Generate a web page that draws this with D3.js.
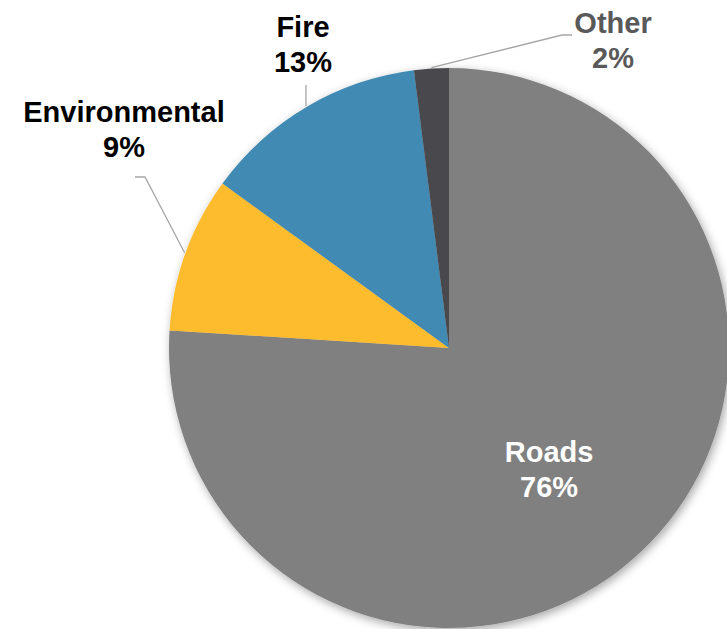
<!DOCTYPE html>
<html lang="en">
  <head>
    <meta charset="utf-8">
    <title>Spending by category</title>
    <script src="https://d3js.org/d3.v7.min.js"></script>
    <style>
      body { margin: 0; background: #fff; }
      text { font-family: "Liberation Sans", Arial, sans-serif; font-weight: bold; font-size: 29px; }
    </style>
  </head>
  <body>
    <script type="text/javascript">

      var w = 727;
      var h = 629;
      var cx = 449, cy = 348, radius = 280;

      var categories = ["Roads", "Environmental", "Fire", "Other"];
      var values = [76, 9, 13, 2];

      var color = d3.scaleOrdinal()
                    .domain(categories)
                    .range(["#808080", "#fdbb2f", "#418ab3", "#4a4a4d"]);

      // label placement relative to the pie centre, plus elbow points for the leader lines
      var labelPos = {
        "Environmental": {x: -325, y: -223, elbow: [[-304, -171], [-314, -171]]},
        "Fire": {x: -146, y: -308, elbow: [[null, -263]]},
        "Other": {x: 164, y: -312, elbow: [[113, -313], [123, -313]]}
      };

      var dataset = categories.map((c, i) => ({name: c, value: values[i]}));

      var svg = d3.select("body")
                  .append("svg")
                  .attr("width", w)
                  .attr("height", h);

      var defs = svg.append("defs");
      var shadow = defs.append("filter")
                       .attr("id", "shadow")
                       .attr("x", "-20%").attr("y", "-20%")
                       .attr("width", "140%").attr("height", "140%");
      shadow.append("feDropShadow")
            .attr("dx", 2).attr("dy", 3)
            .attr("stdDeviation", 5)
            .attr("flood-color", "#000")
            .attr("flood-opacity", 0.35);

      var pie = d3.pie()
                  .sort(null)
                  .value(d => d.value);

      var arc = d3.arc()
                  .innerRadius(0)
                  .outerRadius(radius);

      var g = svg.append("g")
                 .attr("transform", "translate(" + cx + "," + cy + ")");

      var arcs = pie(dataset);

      g.append("g")
       .attr("filter", "url(#shadow)")
       .selectAll("path")
       .data(arcs)
       .enter()
       .append("path")
       .attr("d", arc)
       .attr("fill", d => color(d.data.name));

      // leader lines for the outside labels
      var edge = d => {
        var a = (d.startAngle + d.endAngle) / 2;
        return [Math.sin(a) * (radius + 1), -Math.cos(a) * (radius + 1)];
      };

      g.selectAll("polyline")
       .data(arcs.filter(d => labelPos[d.data.name]))
       .enter()
       .append("polyline")
       .attr("fill", "none")
       .attr("stroke", "#a6a6a6")
       .attr("stroke-width", 1.3)
       .attr("points", d => {
         var p0 = edge(d);
         var pts = [p0].concat(labelPos[d.data.name].elbow.map(e => [e[0] == null ? p0[0] : e[0], e[1]]));
         return pts.map(p => p.join(",")).join(" ");
       });

      // inside label for the big slice
      var inner = d3.arc().innerRadius(155).outerRadius(155);

      var labels = g.selectAll("text.lbl")
                    .data(arcs)
                    .enter()
                    .append("text")
                    .attr("class", "lbl")
                    .attr("text-anchor", "middle")
                    .attr("fill", d => d.data.name == "Roads" ? "#fff" : (d.data.name == "Other" ? "#595959" : "#000"))
                    .attr("transform", d => {
                      var p = labelPos[d.data.name];
                      if (p) return "translate(" + p.x + "," + p.y + ")";
                      var c = inner.centroid(d);
                      return "translate(" + (c[0] - 6) + "," + (c[1] + 4) + ")";
                    });

      labels.append("tspan")
            .attr("x", 0)
            .attr("dy", "-0.1em")
            .text(d => d.data.name);

      labels.append("tspan")
            .attr("x", 0)
            .attr("dy", "1.2em")
            .text(d => d.data.value + "%");

    </script>
  </body>
</html>
